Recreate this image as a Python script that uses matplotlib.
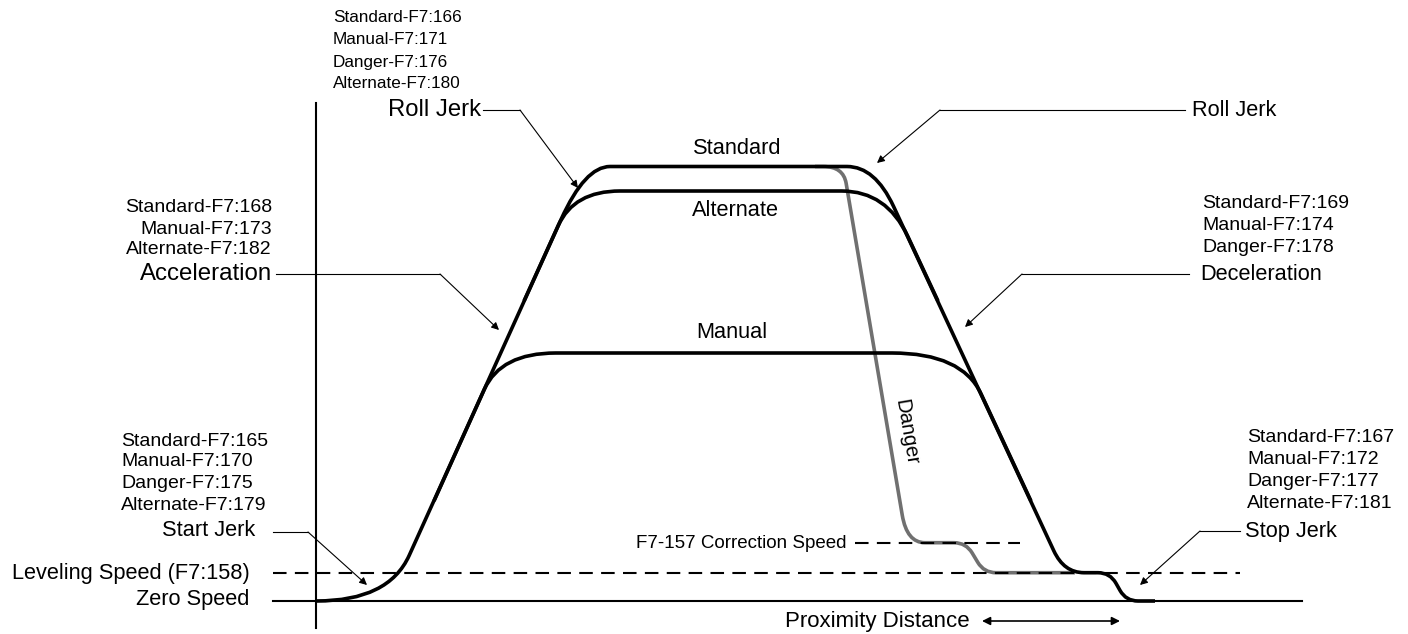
import numpy as np
import matplotlib
matplotlib.use("Agg")
import matplotlib.pyplot as plt
from matplotlib.path import Path
from matplotlib.patches import PathPatch

plt.rcParams['font.family'] = ['Liberation Sans', 'DejaVu Sans']

# ---------------- data (x = distance/time position, v = speed) ----------------
ZERO_V = 0.0
LEVELING_V = 28.3
CORRECTION_V = 58.3

standard_x = [316, 388.6, 585, 875, 1064, 1110, 1126, 1155]
standard_v = [0, 0, 434.5, 434.5, 28.3, 28.3, 0, 0]
standard_r = [0, (72, 50), (58, 25), (28, 44), (24, 20), (12, 12), (12, 12), 0]

alternate_x = [524, 573.9, 886.6, 938]
alternate_v = [300, 410, 410, 300]
alternate_r = [0, (38, 46), (45, 50), 0]

manual_x = [434, 500.7, 962, 1031]
manual_v = [100, 248, 248, 100]
manual_r = [0, (40, 55), (70, 45), 0]

danger_x = [815, 843.3, 906.9, 966, 984, 1075]
danger_v = [434.5, 434.5, 58.3, 58.3, 28.3, 28.3]
danger_r = [0, (20, 17), (28, 18), (12, 12), (12, 12), 0]

leveling_x = [273, 1240]
correction_x = [855, 1020]
zero_line_x = [273, 1302]
axis_v = [-27, 498]

group_roll_left = ["Standard-F7:166", "Manual-F7:171", "Danger-F7:176", "Alternate-F7:180"]
group_accel = ["Standard-F7:168", "Manual-F7:173", "Alternate-F7:182"]
group_start = ["Standard-F7:165", "Manual-F7:170", "Danger-F7:175", "Alternate-F7:179"]
group_decel = ["Standard-F7:169", "Manual-F7:174", "Danger-F7:178"]
group_stop = ["Standard-F7:167", "Manual-F7:172", "Danger-F7:177", "Alternate-F7:181"]

# ---------------- figure ----------------
W, H = 1408, 634
fig = plt.figure(figsize=(W / 100, H / 100), dpi=100)
ax = fig.add_axes([0, 0, 1, 1])
ax.set_xlim(0, W)
ax.set_ylim(601 - H, 601)   # v = 601 - pixel_row
ax.axis('off')


def py(row):
    return 601 - row


def rounded(xs, vs, rs):
    pts = np.column_stack([xs, vs]).astype(float)
    verts = [pts[0]]
    codes = [Path.MOVETO]
    for i in range(1, len(pts) - 1):
        p, c, n = pts[i - 1], pts[i], pts[i + 1]
        rin, rout = rs[i]
        d1 = (p - c) / np.linalg.norm(p - c)
        d2 = (n - c) / np.linalg.norm(n - c)
        a = c + d1 * rin
        b = c + d2 * rout
        verts += [a, c, b]
        codes += [Path.LINETO, Path.CURVE3, Path.CURVE3]
    verts.append(pts[-1])
    codes.append(Path.LINETO)
    return Path(verts, codes)


LW = 2.6
for xs, vs, rs, col in [(danger_x, danger_v, danger_r, '#707070'),
                        (manual_x, manual_v, manual_r, 'black'),
                        (alternate_x, alternate_v, alternate_r, 'black'),
                        (standard_x, standard_v, standard_r, 'black')]:
    ax.add_patch(PathPatch(rounded(xs, vs, rs), fill=False, edgecolor=col,
                           lw=LW, capstyle='butt', joinstyle='round'))

# axes & reference lines
ax.plot(zero_line_x, [ZERO_V, ZERO_V], color='black', lw=1.5)
ax.plot([316, 316], axis_v, color='black', lw=1.5)
ax.plot(leveling_x, [LEVELING_V] * 2, color='black', lw=1.5, ls=(0, (6.5, 4)))
ax.plot(correction_x, [CORRECTION_V] * 2, color='black', lw=1.5, ls=(0, (6.5, 4)))

FS_GROUP = 14
FS_LABEL = 15.7


def group(lines, x, rows, ha='left', fs=FS_GROUP):
    for t, r in zip(lines, rows):
        ax.text(x, py(r), t, fontsize=fs, ha=ha, va='center')


def leader(p0, p1, tip):
    ax.plot([p0[0], p1[0]], [py(p0[1]), py(p1[1])], color='black', lw=0.8)
    ax.annotate('', xy=(tip[0], py(tip[1])), xytext=(p1[0], py(p1[1])),
                arrowprops=dict(arrowstyle='-|>', color='black', lw=0.8,
                                mutation_scale=11, shrinkA=0, shrinkB=0))


# top-left roll jerk
group(group_roll_left, 333, [18, 40, 62, 83], fs=12.3)
ax.text(481, py(110), "Roll Jerk", fontsize=FS_LABEL + 1.5, ha='right', va='center')
leader((483, 110), (520, 110), (578, 188))

# top-right roll jerk
ax.text(1192, py(110), "Roll Jerk", fontsize=FS_LABEL, ha='left', va='center')
leader((1185, 110), (940, 110), (877, 163))

# acceleration
group(group_accel, 272, [207, 229, 250], ha='right')
ax.text(272, py(274), "Acceleration", fontsize=17.3, ha='right', va='center')
leader((276, 274), (440, 274), (499, 330))

# deceleration
group(group_decel, 1202, [203, 226, 248])
ax.text(1200, py(274), "Deceleration", fontsize=FS_LABEL, ha='left', va='center')
leader((1189, 274), (1022, 274), (965, 327))

# start jerk
group(group_start, 121, [441, 462, 484, 506])
ax.text(255, py(531), "Start Jerk", fontsize=FS_LABEL, ha='right', va='center')
leader((273, 532), (308, 532), (367, 585))
ax.text(250, py(573), "Leveling Speed (F7:158)", fontsize=FS_LABEL, ha='right', va='center')
ax.text(249, py(599), "Zero Speed", fontsize=FS_LABEL, ha='right', va='center')

# stop jerk
group(group_stop, 1247, [437, 459, 481, 503])
ax.text(1245, py(531), "Stop Jerk", fontsize=FS_LABEL, ha='left', va='center')
leader((1240, 531), (1200, 531), (1140, 585))

# curve labels
ax.text(737, py(149), "Standard", fontsize=FS_LABEL, ha='center', va='center')
ax.text(735, py(210), "Alternate", fontsize=FS_LABEL, ha='center', va='center')
ax.text(732, py(332), "Manual", fontsize=FS_LABEL, ha='center', va='center')
ax.text(906, py(432), "Danger", fontsize=14.6, ha='center', va='center',
        rotation=-80.4, rotation_mode='anchor')

ax.text(847, py(543), "F7-157 Correction Speed", fontsize=13.5, ha='right', va='center')
ax.text(970, py(621), "Proximity Distance", fontsize=16, ha='right', va='center')
ax.annotate('', xy=(1120, py(621)), xytext=(982, py(621)),
            arrowprops=dict(arrowstyle='<|-|>', color='black', lw=1.2,
                            mutation_scale=12, shrinkA=0, shrinkB=0))

fig.savefig("out.png", dpi=100)
